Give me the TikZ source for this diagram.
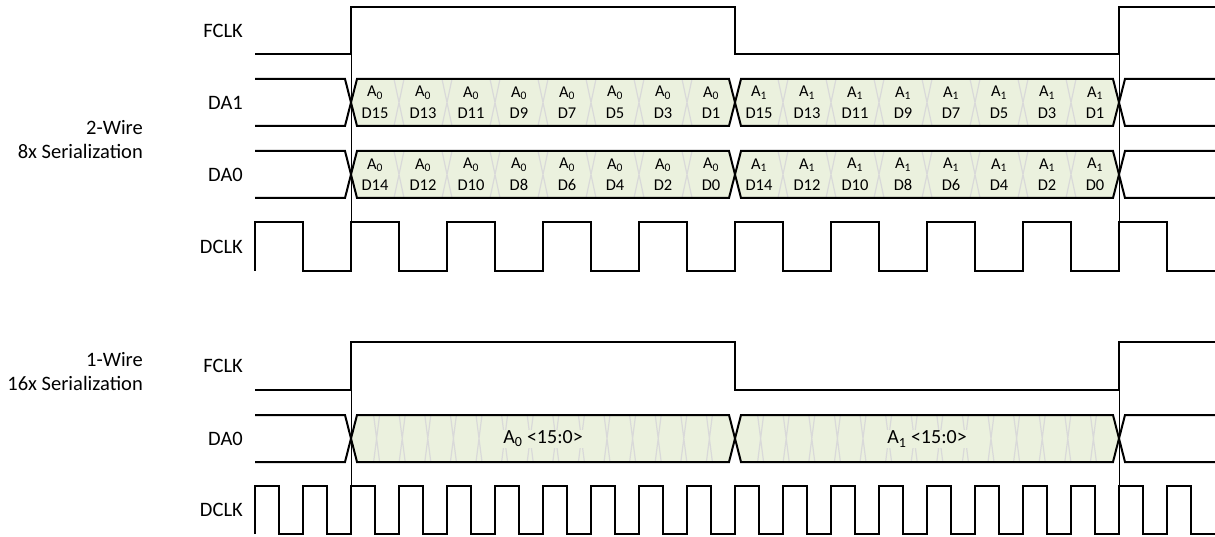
\documentclass[tikz,border=0pt]{standalone}
\usepackage{fontspec}
\setmainfont{Carlito}
\definecolor{cellfill}{HTML}{EBF1DE}
\definecolor{xgray}{HTML}{D9D9D9}

\begin{document}
\begin{tikzpicture}[
  x=1pt, y=-1pt,
  wave/.style={line width=2pt},
  guide/.style={line width=0.8pt},
  busfill/.style={fill=cellfill},
  xover/.style={draw=xgray, line width=1.2pt},
  sig/.style={anchor=east, inner sep=0pt, font=\fontsize{20.5}{24}\selectfont},
  mode/.style={anchor=east, align=right, inner sep=0pt, font=\fontsize{20.5}{24}\selectfont},
  cell/.style={align=center, inner sep=0pt, font=\fontsize{16.5}{21.5}\selectfont},
  word/.style={fill=cellfill, inner sep=1pt, font=\fontsize{20}{22}\selectfont}
]
  \useasboundingbox (0,0) rectangle (1215,537);

  % bus rows: top, bottom, bit step, crossings per word, crossing half width
  \foreach \yt/\yb/\st/\n/\hw in {79/126/48/7/5, 151/198/48/7/5, 415/462/25.6/14/3} {
    \pgfmathsetmacro\ym{(\yt+\yb)/2}
    \fill[busfill] (351,\ym) -- (357,\yt) -- (729,\yt) -- (735,\ym) -- (741,\yt)
      -- (1113,\yt) -- (1119,\ym) -- (1113,\yb) -- (741,\yb) -- (735,\ym)
      -- (729,\yb) -- (357,\yb) -- cycle;
    \foreach \s in {351,735}
      \foreach \k in {1,...,\n}
        \draw[xover] ({\s+\k*\st-\hw},\yt) -- ({\s+\k*\st+\hw},\yb)
                     ({\s+\k*\st-\hw},\yb) -- ({\s+\k*\st+\hw},\yt);
    \draw[wave] (255,\yt) -- (345,\yt) -- (357,\yb) -- (729,\yb) -- (741,\yt)
      -- (1113,\yt) -- (1125,\yb) -- (1215,\yb);
    \draw[wave] (255,\yb) -- (345,\yb) -- (357,\yt) -- (729,\yt) -- (741,\yb)
      -- (1113,\yb) -- (1125,\yt) -- (1215,\yt);
  }

  % frame markers
  \draw[guide] (351,54) -- (351,222) (1119,54) -- (1119,222);
  \draw[guide] (351,390) -- (351,486) (1119,390) -- (1119,486);

  % 2-wire
  \draw[wave] (255,54) -- (351,54) -- (351,7) -- (735,7) -- (735,54)
    -- (1119,54) -- (1119,7) -- (1215,7);
  \draw[wave] (255,271) -- (255,222)
    \foreach \k in {1,...,9} { -- ++(48,0) -- ++(0,49) -- ++(48,0) -- ++(0,-49) }
    -- ++(48,0) -- ++(0,49) -- (1215,271);

  % 1-wire
  \draw[wave] (255,390) -- (351,390) -- (351,342) -- (735,342) -- (735,390)
    -- (1119,390) -- (1119,342) -- (1215,342);
  \draw[wave] (255,534) -- (255,486)
    \foreach \k in {1,...,19} { -- ++(24,0) -- ++(0,48) -- ++(24,0) -- ++(0,-48) }
    -- ++(24,0) -- ++(0,48) -- (1215,534);

  % bit labels
  \foreach \a in {0,1}
    \foreach \i in {0,...,7} {
      \pgfmathtruncatemacro\bitA{15-2*\i}
      \pgfmathtruncatemacro\bitB{14-2*\i}
      \node[cell] (da1-\a-\i) at ({375+384*\a+48*\i},102.5) {A\textsubscript{\a}\\D\bitA};
      \node[cell] (da0-\a-\i) at ({375+384*\a+48*\i},174.5) {A\textsubscript{\a}\\D\bitB};
    }
  \node[word] (wordA) at (543,439) {A\textsubscript{0} <15:0>};
  \node[word] (wordB) at (927,439) {A\textsubscript{1} <15:0>};

  % signal names
  \node[sig] (fclkA) at (243,30.5) {FCLK};
  \node[sig] (da1A) at (243,102.5) {DA1};
  \node[sig] (da0A) at (243,174.5) {DA0};
  \node[sig] (dclkA) at (243,246.5) {DCLK};
  \node[sig] (fclkB) at (243,366) {FCLK};
  \node[sig] (da0B) at (243,438.5) {DA0};
  \node[sig] (dclkB) at (243,510) {DCLK};

  \node[mode] (twoWire) at (143,139.5) {2-Wire\\8x Serialization};
  \node[mode] (oneWire) at (143,372) {1-Wire\\16x Serialization};
\end{tikzpicture}
\end{document}
